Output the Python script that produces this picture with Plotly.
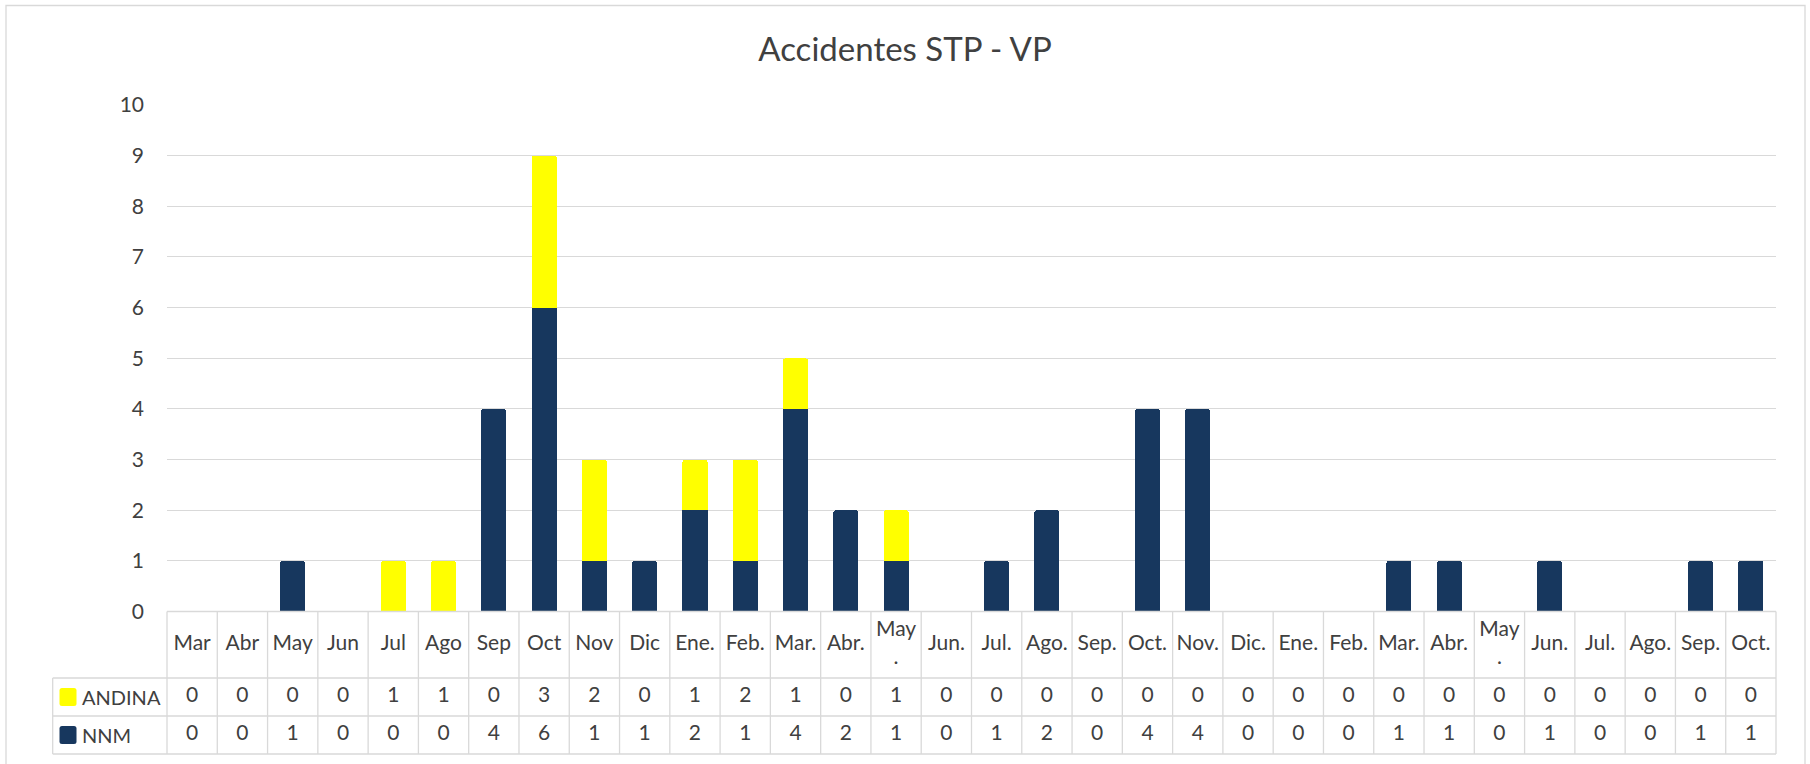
import plotly.graph_objects as go

# ---------------- data ----------------
months = ["Mar", "Abr", "May", "Jun", "Jul", "Ago", "Sep", "Oct", "Nov", "Dic",
          "Ene.", "Feb.", "Mar.", "Abr.", "May.", "Jun.", "Jul.", "Ago.", "Sep.", "Oct.", "Nov.", "Dic.",
          "Ene.", "Feb.", "Mar.", "Abr.", "May.", "Jun.", "Jul.", "Ago.", "Sep.", "Oct."]
andina = [0, 0, 0, 0, 1, 1, 0, 3, 2, 0,
          1, 2, 1, 0, 1, 0, 0, 0, 0, 0, 0, 0,
          0, 0, 0, 0, 0, 0, 0, 0, 0, 0]
nnm = [0, 0, 1, 0, 0, 0, 4, 6, 1, 1,
       2, 1, 4, 2, 1, 0, 1, 2, 0, 4, 4, 0,
       0, 0, 1, 1, 0, 1, 0, 0, 1, 1]
y_ticks = [0, 1, 2, 3, 4, 5, 6, 7, 8, 9, 10]
title_text = "Accidentes STP - VP"

# ---------------- style / layout ----------------
NAVY = "#17375E"
YELLOW = "#FFFF00"
TXT = "#404040"
GRID = "#D9D9D9"
FONT = "Lato"

W, H = 1810, 764
ML, MR, MT, MB = 167, 34, 105, 10
PW, PH = W - ML - MR, H - MT - MB

TBL_TOP, ROW1, ROW2, TBL_BOT = 611.5, 678.0, 716.0, 754.0
LEG_LEFT = 52.7


def xp(px):
    return (px - ML) / PW


def yp(py):
    return (H - MB - py) / PH


idx = list(range(len(months)))
X0, X1 = -0.5, len(months) - 0.5


def xdata_to_paper(v):
    return (v - X0) / (X1 - X0)


def rounded_rect(x0, y0, x1, y1, r):
    return (f"M {xp(x0 + r)},{yp(y0)} L {xp(x1 - r)},{yp(y0)} "
            f"Q {xp(x1)},{yp(y0)} {xp(x1)},{yp(y0 + r)} L {xp(x1)},{yp(y1 - r)} "
            f"Q {xp(x1)},{yp(y1)} {xp(x1 - r)},{yp(y1)} L {xp(x0 + r)},{yp(y1)} "
            f"Q {xp(x0)},{yp(y1)} {xp(x0)},{yp(y1 - r)} L {xp(x0)},{yp(y0 + r)} "
            f"Q {xp(x0)},{yp(y0)} {xp(x0 + r)},{yp(y0)} Z")


main_bottom = yp(TBL_TOP)

fig = go.Figure()
fig.add_trace(go.Bar(x=idx, y=nnm, name="NNM", marker=dict(color=NAVY, line=dict(width=0)),
                     hoverinfo="y"))
fig.add_trace(go.Bar(x=idx, y=andina, name="ANDINA", marker=dict(color=YELLOW, line=dict(width=0)),
                     hoverinfo="y"))

header_text = [m if m != "May." else "May<br>." for m in months]
rows = [
    (header_text, (TBL_TOP + ROW1) / 2),
    ([str(v) for v in andina], (ROW1 + ROW2) / 2),
    ([str(v) for v in nnm], (ROW2 + TBL_BOT) / 2),
]
for texts, yc in rows:
    fig.add_trace(go.Scatter(x=idx, y=[yc] * len(idx), text=texts, mode="text",
                             textfont=dict(family=FONT, size=21, color=TXT),
                             xaxis="x2", yaxis="y2", showlegend=False, hoverinfo="skip",
                             cliponaxis=False))

shapes = []
line = dict(color=GRID, width=1.3)
# vertical boundaries of category columns
for b in range(len(months) + 1):
    xv = xdata_to_paper(b - 0.5)
    shapes.append(dict(type="line", xref="paper", yref="paper", x0=xv, x1=xv,
                       y0=yp(TBL_TOP), y1=yp(TBL_BOT), line=line, layer="above"))
# horizontal lines
shapes.append(dict(type="line", xref="paper", yref="paper", x0=0, x1=1,
                   y0=yp(TBL_TOP), y1=yp(TBL_TOP), line=line, layer="above"))
for yy in (ROW1, ROW2, TBL_BOT):
    shapes.append(dict(type="line", xref="paper", yref="paper", x0=xp(LEG_LEFT), x1=1,
                       y0=yp(yy), y1=yp(yy), line=line, layer="above"))
# legend column left border
shapes.append(dict(type="line", xref="paper", yref="paper", x0=xp(LEG_LEFT), x1=xp(LEG_LEFT),
                   y0=yp(ROW1), y1=yp(TBL_BOT), line=line))
# legend keys
annotations = []
for name, color, (r0, r1) in (("ANDINA", YELLOW, (ROW1, ROW2)), ("NNM", NAVY, (ROW2, TBL_BOT))):
    yc = (r0 + r1) / 2
    shapes.append(dict(type="path", xref="paper", yref="paper",
                       path=rounded_rect(59.5, yc - 9, 76.5, yc + 9, 2.5),
                       fillcolor=color, line=dict(width=0)))
    annotations.append(dict(xref="paper", yref="paper", x=xp(79.5), y=yp(yc), text=name,
                            showarrow=False, xanchor="left", yanchor="middle",
                            font=dict(family=FONT, size=20, color=TXT)))
# chart border
shapes.append(dict(type="rect", xref="paper", yref="paper", x0=xp(6), x1=xp(1805),
                   y0=yp(767), y1=yp(5.5), line=dict(color=GRID, width=1.3), layer="below"))

fig.update_layout(
    width=W, height=H,
    margin=dict(l=ML, r=MR, t=MT, b=MB, autoexpand=False),
    paper_bgcolor="white", plot_bgcolor="white",
    barmode="stack", bargap=0.5, barcornerradius=3,
    showlegend=False,
    title=dict(text=title_text, x=0.5, xref="container", xanchor="center",
               y=1 - 49 / H, yref="container", yanchor="middle",
               font=dict(family=FONT, size=33, color=TXT)),
    font=dict(family=FONT, color=TXT),
    xaxis=dict(domain=[0, 1], range=[X0, X1], showticklabels=False, showgrid=False,
               zeroline=False, showline=False, fixedrange=True, anchor="y"),
    yaxis=dict(domain=[main_bottom, 1], range=[0, 10], tickvals=y_ticks,
               showgrid=True, gridcolor=GRID, gridwidth=1.3, zeroline=False, showline=False,
               ticks="", ticklabelstandoff=22,
               tickfont=dict(family=FONT, size=21, color=TXT), anchor="x"),
    xaxis2=dict(domain=[0, 1], matches="x", visible=False, anchor="y2"),
    yaxis2=dict(domain=[0, main_bottom], range=[TBL_BOT, TBL_TOP], visible=False, anchor="x2"),
    shapes=shapes,
    annotations=annotations,
)

fig.write_html("out.html", config={"displayModeBar": False},
               post_script="document.body.style.margin='0';document.body.style.overflow='hidden';")
